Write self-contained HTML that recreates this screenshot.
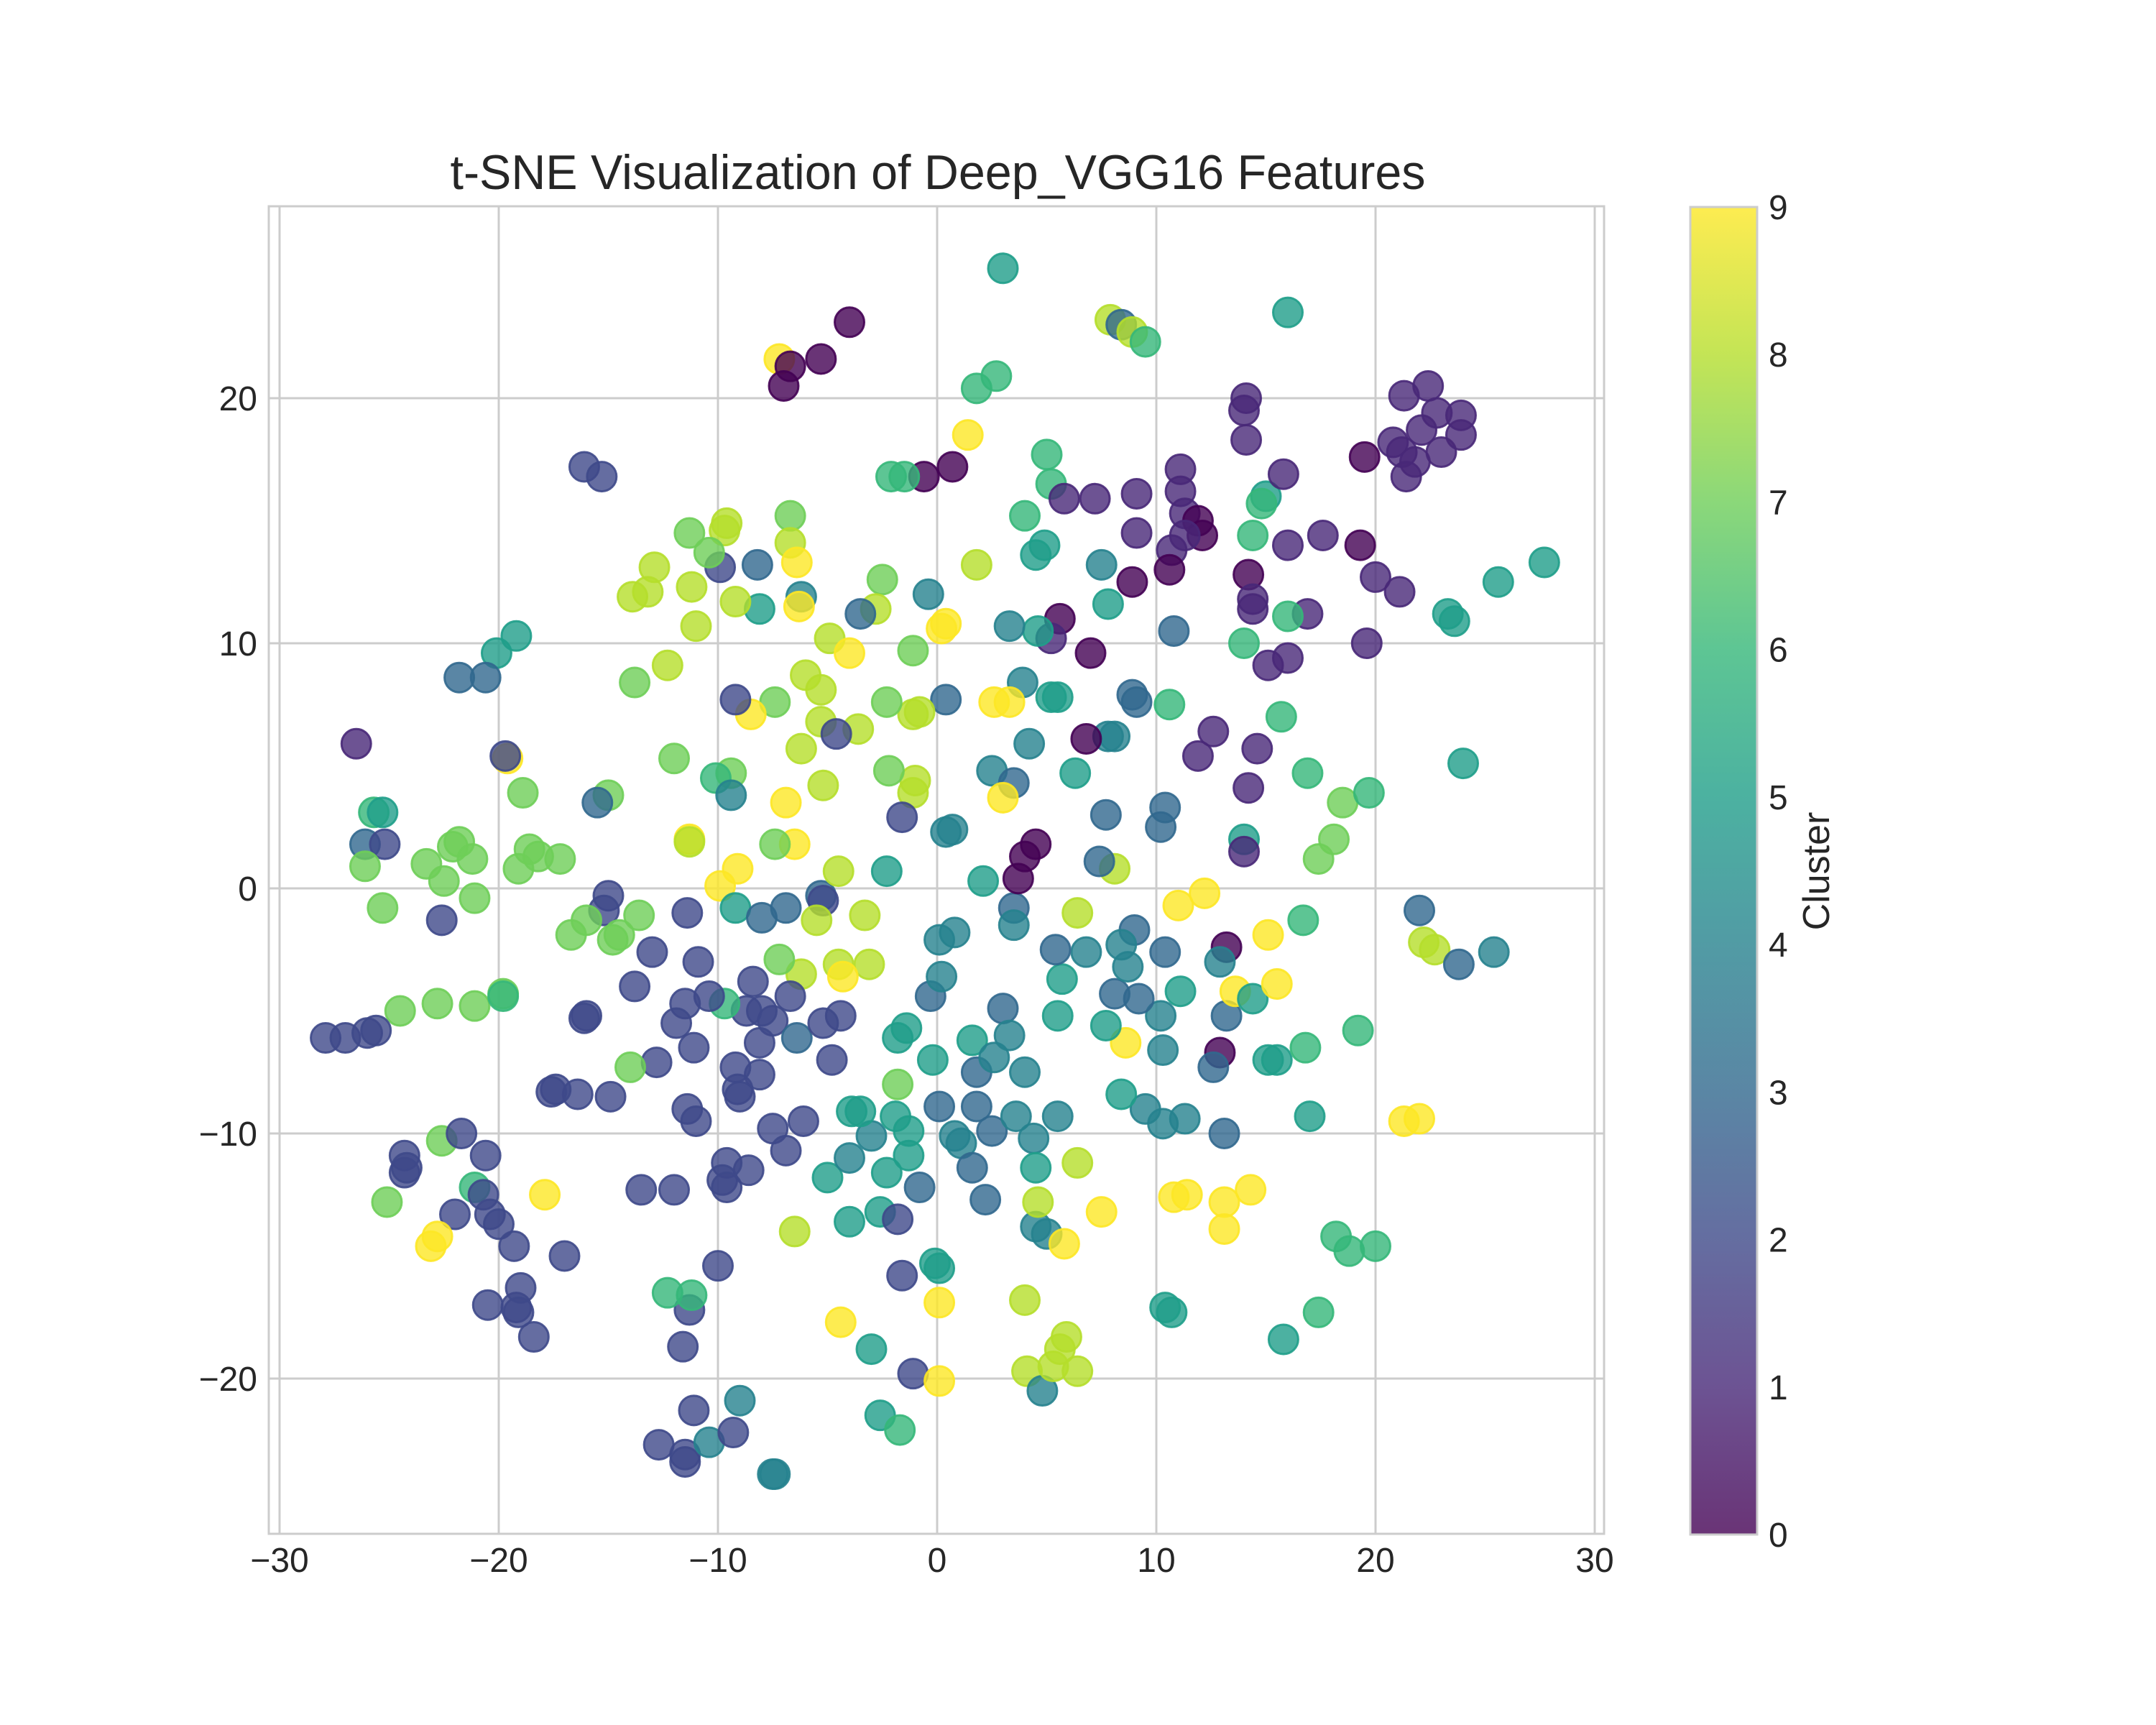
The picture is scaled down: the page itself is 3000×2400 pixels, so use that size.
<!DOCTYPE html>
<html><head><meta charset="utf-8"><style>
html,body{margin:0;padding:0;background:#fff}
svg{display:block}
text{font-family:"Liberation Sans",Arial,sans-serif;fill:#262626}
</style></head><body>
<svg id="chart" width="3000" height="2400" viewBox="0 0 3000 2400" xmlns="http://www.w3.org/2000/svg">
<defs>
<linearGradient id="vir" x1="0" y1="1" x2="0" y2="0">
<stop offset="0" stop-color="#440154"/><stop offset="0.111" stop-color="#482878"/><stop offset="0.222" stop-color="#3e4989"/><stop offset="0.333" stop-color="#31688e"/><stop offset="0.444" stop-color="#26828e"/><stop offset="0.556" stop-color="#1f9e89"/><stop offset="0.667" stop-color="#35b779"/><stop offset="0.778" stop-color="#6ece58"/><stop offset="0.889" stop-color="#b5de2b"/><stop offset="1" stop-color="#fde725"/>
</linearGradient>
</defs>
<text x="1305" y="263" font-size="68" text-anchor="middle" textLength="1357" lengthAdjust="spacingAndGlyphs">t-SNE Visualization of Deep_VGG16 Features</text>
<g id="grid"></g>
<g id="points"></g>
<rect x="374" y="287" width="1858" height="1847" fill="none" stroke="#cccccc" stroke-width="3"/>
<g id="xticks"></g>
<g id="yticks"></g>
<g>
<rect x="2352" y="288" width="93" height="1847" fill="url(#vir)" fill-opacity="0.8" stroke="#cccccc" stroke-width="3"/>
<g id="cticks"></g>
<text transform="translate(2545,1212) rotate(-90)" font-size="52" text-anchor="middle">Cluster</text>
</g>
</svg>
<script>
const xTicks=[-30,-20,-10,0,10,20,30];
const yTicks=[-20,-10,0,10,20];
const cTicks=[0,1,2,3,4,5,6,7,8,9];
const viridis=["#440154","#482878","#3e4989","#31688e","#26828e","#1f9e89","#35b779","#6ece58","#b5de2b","#fde725"];
const px=[3.0,-7.2,-6.7,-7.0,-5.3,-4.0,7.9,8.4,8.9,9.5,16.0,2.7,1.8,1.4,-0.6,0.7,-2.1,-1.5,-16.1,-15.3,5.0,5.2,5.8,7.2,9.1,11.1,11.1,11.3,11.9,12.1,11.3,10.7,9.1,10.6,8.9,7.5,7.8,10.8,14.1,14.0,14.1,15.0,14.8,15.8,14.4,17.6,16.0,14.2,14.4,14.4,16.9,16.0,19.5,21.3,22.4,22.8,23.9,23.9,22.1,20.8,21.2,21.8,23.0,21.4,19.3,20.0,21.1,23.3,23.6,25.6,27.7,19.6,14.0,16.0,15.1,15.7,14.6,12.6,11.9,10.6,8.9,9.1,16.9,18.5,19.7,18.1,17.4,14.2,14.0,14.0,24.0,22.0,22.2,22.7,23.8,25.4,16.7,15.1,13.2,12.9,13.2,13.6,14.4,15.5,15.1,15.5,16.8,12.9,12.6,19.2,17.0,21.3,22.0,13.1,14.3,13.1,13.1,10.8,11.4,18.2,18.8,20.0,17.4,15.8,10.7,10.4,11.0,12.2,10.4,11.1,11.3,10.3,9.5,10.3,10.2,9.2,8.1,9.0,8.7,8.4,8.6,8.4,7.7,6.8,5.7,5.4,5.5,5.5,6.4,8.1,7.4,7.7,8.1,7.8,6.8,7.0,6.3,10.2,10.4,5.6,5.2,4.6,3.3,4.9,4.5,4.0,5.2,5.5,3.9,2.6,3.3,4.2,2.5,3.5,3.0,0.4,1.8,-0.4,0.2,0.4,-1.1,-1.1,-0.8,-1.1,-1.0,-2.2,-2.3,-2.5,-2.8,-3.5,-4.9,-4.0,-6.0,-5.3,-5.3,-3.6,-4.6,-6.2,-5.2,-6.9,-6.5,-7.4,-9.4,-10.1,-9.4,-7.4,-8.5,-9.2,-6.7,-6.7,-6.4,-6.2,-6.3,-8.2,-8.1,-9.2,-11.3,-9.7,-9.6,-9.9,-10.4,-11.2,-11.0,-12.9,-13.2,-13.9,-12.3,-13.8,-12.0,-15.0,-15.5,-11.3,-11.3,-9.1,-9.9,-9.2,-8.0,-6.9,-5.3,-5.2,-5.5,-4.5,-3.3,-3.1,-4.5,-4.3,-4.4,-6.2,-7.2,-6.7,-7.5,-8.0,-8.4,-8.7,-9.7,-10.4,-10.9,-11.5,-11.9,-11.1,-8.1,-6.4,-5.2,-4.8,-8.1,-9.2,-9.1,-9.0,-11.4,-11.0,-7.5,-6.1,-6.9,-8.6,-9.6,-9.8,-9.6,-10.0,-11.3,-11.6,-11.4,-13.0,-13.8,-12.8,-12.0,-13.5,-15.0,-15.2,-13.6,-14.5,-14.8,-14.0,-16.0,-16.1,-16.4,-17.4,-17.6,-14.9,-16.7,-16.0,-17.2,-18.2,-18.6,-19.1,-18.9,-19.6,-19.7,-19.2,-20.1,-20.6,-21.8,-22.1,-21.8,-21.2,-21.1,-23.3,-22.5,-22.6,-26.5,-25.7,-25.3,-26.1,-25.2,-26.1,-25.3,-24.5,-22.8,-21.1,-19.8,-19.8,-27.9,-27.0,-26.0,-25.6,-24.3,-24.3,-24.2,-22.6,-21.7,-20.6,-21.1,-20.7,-22.0,-20.4,-20.0,-19.3,-25.1,-23.1,-22.8,-17.9,-17.0,-20.5,-19.2,-19.0,-19.1,-18.4,-12.3,-11.2,-11.1,-12.7,-11.5,-11.5,-10.4,-9.3,-9.0,-7.5,-7.4,-6.5,-4.4,-3.0,-2.6,-1.7,-1.1,0.1,0.1,-0.1,0.1,-1.6,-4.0,-2.6,-1.8,-2.3,-1.3,-0.8,-5.0,-4.0,-3.0,-1.9,-1.3,-3.9,-3.5,-1.8,-1.8,-1.4,-0.3,0.2,0.1,0.8,-0.2,0.1,0.8,1.1,1.6,1.8,1.8,1.6,2.6,2.5,3.0,3.3,3.6,4.0,4.4,4.5,4.5,5.0,2.2,4.6,6.4,5.8,7.5,4.0,4.1,4.8,5.3,5.6,5.9,6.4,2.1,3.5,3.5,3.7,4.0,4.5,0.7,0.4,-1.6,-2.3];
const py=[25.3,21.6,21.3,20.5,21.6,23.1,23.2,23.0,22.7,22.3,23.5,20.9,20.4,18.5,16.8,17.2,16.8,16.8,17.2,16.8,17.7,16.5,15.9,15.9,16.1,17.1,16.2,15.3,15.0,14.4,14.4,13.8,14.5,13.0,12.5,13.2,11.6,10.5,20.0,19.5,18.3,16.0,15.7,16.9,14.4,14.4,14.0,12.8,11.8,11.4,11.2,11.1,17.6,20.1,20.5,19.4,19.3,18.5,18.7,18.2,17.8,17.4,17.8,16.8,14.0,12.7,12.1,11.2,10.9,12.5,13.3,10.0,10.0,9.4,9.1,7.0,5.7,6.4,5.4,7.5,7.9,7.6,4.7,3.5,3.9,2.0,1.2,4.1,2.0,1.5,5.1,-0.9,-2.2,-2.5,-3.1,-2.6,-1.3,-1.9,-2.4,-3.0,-5.2,-4.2,-4.5,-3.9,-7.0,-7.0,-6.5,-6.7,-7.3,-5.8,-9.3,-9.5,-9.4,-10.0,-12.3,-12.8,-13.9,-12.6,-12.5,-14.2,-14.8,-14.6,-17.3,-18.4,-17.3,-17.1,-0.7,-0.2,-2.6,-4.2,-9.4,-9.6,-9.0,-6.6,-5.2,-4.5,-4.3,-1.7,-3.2,-2.3,-6.3,-8.4,-5.6,-2.6,-3.7,-2.5,-5.2,-9.3,-1.0,0.8,1.1,3.0,6.2,6.2,6.1,9.6,4.7,2.5,3.3,11.0,10.2,10.5,10.7,14.0,13.6,15.2,7.8,7.8,8.4,7.6,7.6,5.9,4.8,4.3,3.7,7.7,13.2,12.0,10.6,10.8,9.7,7.1,7.2,3.9,4.4,4.8,7.6,12.6,11.4,11.2,10.2,9.6,8.7,8.1,6.8,6.5,6.3,5.7,4.2,3.5,1.8,1.8,4.7,4.5,3.8,7.6,7.1,7.7,15.2,14.1,13.3,11.9,11.5,13.2,11.4,11.7,14.5,14.6,14.9,13.1,13.7,12.3,10.7,13.1,12.1,11.9,9.1,8.4,5.3,3.8,3.5,2.0,1.9,0.8,0.1,-0.8,-1.2,-0.8,-0.3,-0.5,-1.3,0.7,-1.1,-3.1,-3.1,-3.6,-5.2,-3.5,-2.9,-4.4,-5.4,-5.0,-3.8,-5.0,-4.7,-4.4,-3.0,-4.7,-5.5,-6.5,-6.3,-6.1,-5.5,-7.0,-7.6,-7.3,-8.2,-8.5,-9.0,-9.5,-9.8,-9.5,-10.7,-11.5,-11.2,-11.9,-12.2,-15.4,-17.2,-18.7,-1.0,-2.6,-4.0,-7.1,-12.3,-12.3,-0.3,-0.9,-1.1,-1.9,-2.1,-7.3,-5.2,-5.3,-8.4,-8.2,-8.3,-8.5,-1.9,-1.3,1.2,1.3,1.6,0.8,3.9,5.3,5.4,10.3,9.6,8.6,8.6,1.7,1.9,1.2,-0.4,1.0,0.3,-1.3,5.9,3.1,3.1,1.8,1.8,0.9,-0.8,-5.0,-4.7,-4.8,-4.3,-4.4,-6.1,-6.1,-5.9,-5.8,-10.9,-11.6,-11.4,-10.3,-10.0,-10.9,-12.2,-12.5,-13.3,-13.3,-13.7,-14.6,-12.8,-14.6,-14.2,-12.5,-15.0,-17.0,-17.1,-16.3,-17.3,-18.3,-16.5,-16.6,-21.3,-22.7,-23.1,-23.4,-22.6,-22.2,-20.9,-23.9,-23.9,-14.0,-17.7,-18.8,-21.5,-22.1,-19.8,-20.1,-16.9,-15.3,-15.5,-15.8,-13.6,-13.2,-13.5,-11.6,-10.9,-12.2,-11.8,-11.0,-10.1,-9.3,-9.9,-9.1,-9.1,-8.0,-6.1,-5.7,-4.4,-3.6,-2.1,-1.8,-7.0,-8.9,-10.1,-10.4,-11.4,-8.9,-7.5,-6.2,-6.9,-9.9,-4.9,-6.0,-9.3,-7.5,-10.2,-11.4,-13.8,-14.1,-12.7,-12.8,-11.2,-14.5,-13.2,-16.8,-19.7,-20.5,-19.5,-18.8,-18.3,-19.7,0.3,-0.8,-1.5,0.4,1.3,1.8,2.4,2.3,2.9,0.7];
const pc=[5,9,0,0,0,0,8,3,8,6,5,6,6,9,0,0,6,6,2,2,6,6,1,1,1,1,1,1,0,0,1,1,1,0,0,4,5,3,1,1,1,5,6,1,6,1,1,0,1,1,1,6,0,1,1,1,1,1,1,1,1,1,1,1,0,1,1,5,5,5,5,1,6,1,1,6,1,1,1,6,3,3,6,7,6,7,7,1,5,1,5,3,8,8,3,4,6,9,0,4,3,9,5,9,5,5,6,0,3,6,5,9,9,3,9,9,9,9,9,6,6,6,6,5,5,5,9,9,3,5,4,4,4,4,4,3,3,3,4,4,9,5,5,4,5,3,5,4,8,8,3,3,4,4,0,0,5,3,3,0,1,5,4,5,5,6,5,5,4,9,9,4,4,3,9,3,8,4,9,9,7,8,8,8,8,7,7,7,8,3,8,9,8,8,8,8,2,8,8,9,9,7,7,6,4,7,9,2,7,8,9,4,9,3,5,8,7,8,8,2,7,8,8,8,8,8,8,7,7,7,3,9,8,9,9,5,3,3,3,2,8,8,8,8,8,9,2,8,7,2,2,2,2,2,6,2,2,2,2,2,2,3,2,2,2,2,2,2,2,2,2,2,2,2,2,2,2,2,2,2,2,2,2,2,2,2,2,2,7,7,7,7,2,2,2,2,2,2,7,7,7,7,7,7,7,9,2,5,5,3,3,7,7,7,7,7,7,2,1,6,5,3,2,7,7,7,7,7,7,6,2,2,2,2,2,2,2,7,2,2,6,2,2,2,2,2,7,9,9,9,2,2,2,2,2,2,6,6,2,2,2,2,4,2,4,4,4,8,9,5,5,6,2,9,9,5,5,2,5,5,2,5,5,3,5,4,4,5,5,5,5,7,5,5,3,4,4,4,5,3,4,4,3,3,3,5,4,3,3,4,4,4,4,5,4,4,3,8,8,9,9,8,8,4,8,8,8,8,5,3,4,0,0,0,4,4,2,5];
const NS="http://www.w3.org/2000/svg";
const L=374,R=2232,T=287,B=2134;
function sx(v){return 1304+v*30.5;}
function sy(v){return 1236-v*34.1;}
function cy(v){return 2135-v*(2135-288)/9;}
function mk(tag,attrs,parent){const e=document.createElementNS(NS,tag);for(const k in attrs)e.setAttribute(k,attrs[k]);parent.appendChild(e);return e;}
const grid=document.getElementById('grid');
xTicks.forEach(t=>{
 const l=mk('line',{x1:sx(t),x2:sx(t),y1:T,y2:B,stroke:'#cccccc','stroke-width':3},grid);
 
 
 const tx=mk('text',{x:sx(t),y:2187,'font-size':48,'text-anchor':'middle'},document.getElementById('xticks'));
 tx.textContent=t<0?'\u2212'+(-t):String(t);
 
 
});
yTicks.forEach(t=>{
 const l=mk('line',{x1:L,x2:R,y1:sy(t),y2:sy(t),stroke:'#cccccc','stroke-width':3},grid);
 
 
 const tx=mk('text',{x:358,y:sy(t)+17,'font-size':48,'text-anchor':'end'},document.getElementById('yticks'));
 tx.textContent=t<0?'\u2212'+(-t):String(t);
 
 
});
cTicks.forEach(t=>{
 const tx=mk('text',{x:2461,y:cy(t)+17,'font-size':48},document.getElementById('cticks'));
 tx.textContent=String(t);
 
 
});
const pts=document.getElementById('points');
for(let i=0;i<px.length;i++){
 const col=viridis[pc[i]];
 const c=mk('circle',{cx:sx(px[i]),cy:sy(py[i]),r:20.5,fill:col,'fill-opacity':0.8,stroke:col,'stroke-opacity':0.9,'stroke-width':3},pts);
 
 
}
</script>
</body></html>
